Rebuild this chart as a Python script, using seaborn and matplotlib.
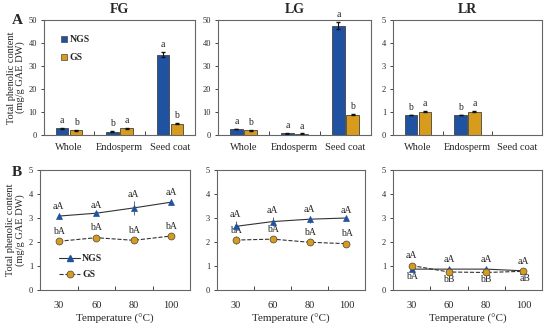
import pandas as pd
import seaborn as sns
import matplotlib.pyplot as plt

# ---- data ----
parts = ["Whole", "Endosperm", "Seed coat"]
temps = ["30", "60", "80", "100"]
cultivars = ["FG", "LG", "LR"]

bar_ngs = {"FG": [3.0, 1.5, 35.0], "LG": [2.6, 0.7, 47.5], "LR": [0.87, 0.87, None]}
bar_gs = {"FG": [2.0, 3.0, 5.0], "LG": [2.0, 0.6, 8.8], "LR": [1.02, 1.02, None]}
bar_ngs_err = {"FG": [0.2, 0.15, 1.2], "LG": [0.2, 0.1, 1.5], "LR": [0.02, 0.02, None]}
bar_gs_err = {"FG": [0.2, 0.25, 0.3], "LG": [0.15, 0.1, 0.3], "LR": [0.04, 0.04, None]}
bar_ngs_lbl = {"FG": ["a", "b", "a"], "LG": ["a", "a", "a"], "LR": ["b", "b", ""]}
bar_gs_lbl = {"FG": ["b", "a", "b"], "LG": ["b", "a", "b"], "LR": ["a", "a", ""]}
bar_ylim = {"FG": 50, "LG": 50, "LR": 5}

line_ngs = {"FG": [3.08, 3.2, 3.42, 3.66], "LG": [2.65, 2.85, 2.95, 3.0], "LR": [0.87, 0.87, 0.87, 0.8]}
line_gs = {"FG": [2.03, 2.18, 2.07, 2.25], "LG": [2.08, 2.12, 1.99, 1.93], "LR": [1.02, 0.75, 0.73, 0.78]}
line_ngs_err = {"FG": [0.12, 0.07, 0.28, 0.13], "LG": [0.22, 0.2, 0.15, 0.05], "LR": [0.05, 0.05, 0.05, 0.03]}
line_gs_err = {"FG": [0.05, 0.05, 0.05, 0.07], "LG": [0.15, 0.05, 0.05, 0.05], "LR": [0.05, 0.05, 0.05, 0.05]}
line_ngs_lbl = {"FG": ["aA"] * 4, "LG": ["aA"] * 4, "LR": ["aA"] * 4}
line_gs_lbl = {"FG": ["bA"] * 4, "LG": ["bA"] * 4, "LR": ["bA", "bB", "bB", "aB"]}

blue = "#1f52a0"
gold = "#d89c1c"
edge = "#444444"

sns.set_style("ticks")
plt.rcParams["font.family"] = ["Liberation Serif", "DejaVu Serif"]
plt.rcParams["axes.edgecolor"] = "#666666"
plt.rcParams["axes.linewidth"] = 0.8

fig = plt.figure(figsize=(5.5, 3.25), dpi=100)
W, H = 550.0, 325.0
top_pos = [(44, 195), (218, 371), (393, 542)]
bot_pos = [(40, 190), (217, 365), (393, 542)]
ylab = "Total phenolic content\n(mg/g GAE DW)"


def add_ax(x0, x1, ytop, ybot):
    return fig.add_axes([x0 / W, 1 - ybot / H, (x1 - x0) / W, (ybot - ytop) / H])


def style_ax(ax, n, ymax, ystep, xpad):
    ax.set_xlim(-0.5, n - 0.5)
    ax.set_ylim(0, ymax)
    ax.set_yticks([ymax / 5 * i for i in range(6)])
    ax.set_yticklabels([f"{int(ystep * i)}" for i in range(6)], fontsize=6)
    ax.set_xticks(range(n))
    ax.tick_params(axis="x", length=0, labelsize=7.5, pad=xpad)
    ax.tick_params(axis="y", length=2, width=0.6, direction="out", pad=3)
    ax.set_xticks([i + 0.5 for i in range(n - 1)], minor=True)
    ax.tick_params(axis="x", which="minor", length=3, width=0.6, direction="in")
    for s in ax.spines.values():
        s.set_visible(True)
        s.set_color("#666666")
    ax.set_xlabel("")
    ax.set_ylabel("")


# ---- top row: bars ----
for k, c in enumerate(cultivars):
    ax = add_ax(top_pos[k][0], top_pos[k][1], 20, 135)
    rows = []
    for i, p in enumerate(parts):
        if bar_ngs[c][i] is not None:
            rows.append({"part": p, "group": "NGS", "val": bar_ngs[c][i]})
            rows.append({"part": p, "group": "GS", "val": bar_gs[c][i]})
    df = pd.DataFrame(rows)
    sns.barplot(data=df, x="part", y="val", hue="group", order=parts, hue_order=["NGS", "GS"],
                palette=[blue, gold], saturation=1, width=0.56, gap=0.12, errorbar=None,
                edgecolor=edge, linewidth=0.6, ax=ax, legend=False)
    ymax = bar_ylim[c]
    off = 0.56 / 4
    for i in range(3):
        if bar_ngs[c][i] is None:
            continue
        for dx, v, e, lb in [(-off, bar_ngs[c][i], bar_ngs_err[c][i], bar_ngs_lbl[c][i]),
                             (off, bar_gs[c][i], bar_gs_err[c][i], bar_gs_lbl[c][i])]:
            ax.errorbar(i + dx, v, yerr=e, fmt="none", ecolor="#111111", elinewidth=0.8, capsize=1.5)
            ax.text(i + dx, v + e + ymax * 0.025, lb, ha="center", va="bottom", fontsize=7)
    style_ax(ax, 3, ymax, ymax / 5, 6)
    ax.set_title(c, fontsize=10, fontweight="bold", pad=5)
    if k == 0:
        ax.set_ylabel(ylab, fontsize=7.5, linespacing=1.0)
        ax.yaxis.set_label_coords(-0.125, 0.5)
        h = [plt.Line2D([], [], marker="s", color="none", markerfacecolor=col,
                        markeredgecolor=edge, markeredgewidth=0.5, markersize=5) for col in [blue, gold]]
        ax.legend(h, ["NGS", "GS"], loc="upper left", bbox_to_anchor=(0.08, 0.9), frameon=False,
                  prop={"size": 7, "weight": "bold"}, handlelength=0.8, handletextpad=0.2,
                  labelspacing=0.9, borderaxespad=0)

# ---- bottom row: lines ----
for k, c in enumerate(cultivars):
    ax = add_ax(bot_pos[k][0], bot_pos[k][1], 170, 290)
    df = pd.DataFrame({"temp": temps * 2,
                       "group": ["NGS"] * 4 + ["GS"] * 4,
                       "val": line_ngs[c] + line_gs[c]})
    sns.pointplot(data=df, x="temp", y="val", hue="group", order=temps, hue_order=["NGS", "GS"],
                  palette=["#333333", "#333333"], markers=["^", "o"], linestyles=["-", "--"],
                  errorbar=None, ax=ax, legend=False, linewidth=0.8, markersize=0)
    for vals, errs, mk, fc, ms in [(line_ngs[c], line_ngs_err[c], "^", blue, 4.5),
                                   (line_gs[c], line_gs_err[c], "o", gold, 5)]:
        ax.errorbar(range(4), vals, yerr=errs, fmt=mk, color=fc, markerfacecolor=fc,
                    markeredgecolor="#444444" if mk == "o" else fc, markeredgewidth=0.5,
                    markersize=ms, ecolor="#555555", elinewidth=0.6, capsize=0, zorder=5)
    for i in range(4):
        if c == "LR":
            top = max(line_ngs[c][i], line_gs[c][i])
            low = min(line_ngs[c][i], line_gs[c][i])
            ax.text(i, top + 0.22, line_ngs_lbl[c][i], ha="center", va="bottom", fontsize=7)
            ax.text(i + (0.05 if i == 3 else 0), low - 0.12, line_gs_lbl[c][i], ha="center", va="top", fontsize=7)
        else:
            ax.text(i, line_ngs[c][i] + line_ngs_err[c][i] + 0.08, line_ngs_lbl[c][i],
                    ha="center", va="bottom", fontsize=7)
            ax.text(i, line_gs[c][i] + 0.22, line_gs_lbl[c][i], ha="center", va="bottom", fontsize=7)
    style_ax(ax, 4, 5, 1, 8)
    ax.set_xlabel("Temperature (\u00b0C)", fontsize=8, labelpad=3)
    if k == 0:
        ax.set_ylabel(ylab, fontsize=7.5, linespacing=1.0)
        ax.yaxis.set_label_coords(-0.1, 0.5)
        h = [plt.Line2D([], [], color="#333333", lw=0.8, ls="-", marker="^", markersize=4.5,
                        markerfacecolor=blue, markeredgecolor=blue),
             plt.Line2D([], [], color="#333333", lw=0.8, ls="--", marker="o", markersize=5,
                        markerfacecolor=gold, markeredgecolor="#444444", markeredgewidth=0.5)]
        ax.legend(h, ["NGS", "GS"], loc="lower left", bbox_to_anchor=(0.1, 0.06), frameon=False,
                  prop={"size": 7, "weight": "bold"}, handlelength=2.2, handletextpad=0.2,
                  labelspacing=0.7, borderaxespad=0)

fig.text(12 / W, 1 - 20 / H, "A", fontsize=11, fontweight="bold", va="center")
fig.text(12 / W, 1 - 172 / H, "B", fontsize=11, fontweight="bold", va="center")

fig.savefig("out.png", dpi=100)
